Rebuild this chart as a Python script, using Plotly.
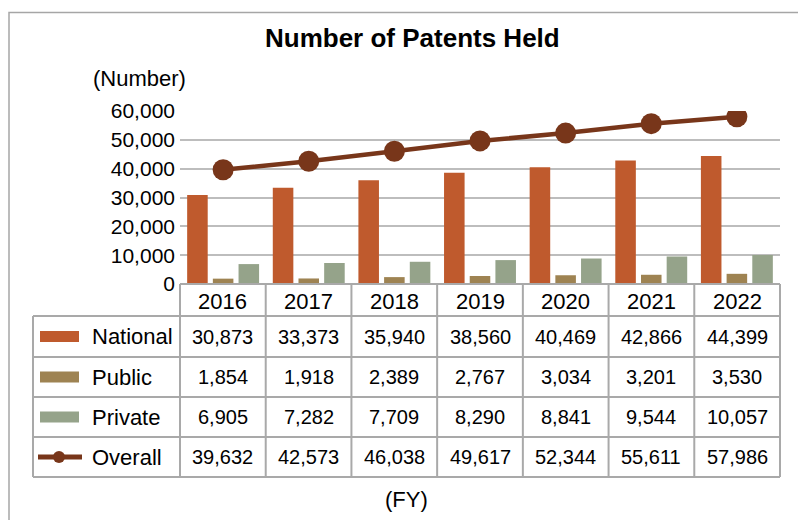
import plotly.graph_objects as go

years = ["2016", "2017", "2018", "2019", "2020", "2021", "2022"]
national = [30873, 33373, 35940, 38560, 40469, 42866, 44399]
public = [1854, 1918, 2389, 2767, 3034, 3201, 3530]
private = [6905, 7282, 7709, 8290, 8841, 9544, 10057]
overall = [39632, 42573, 46038, 49617, 52344, 55611, 57986]
series_names = ["National", "Public", "Private", "Overall"]
y_ticks = [0, 10000, 20000, 30000, 40000, 50000, 60000]

C_NAT = "#BF5A2D"
C_PUB = "#9E8352"
C_PRI = "#95A38A"
C_ALL = "#78361A"
GRID = "#BDBDBD"
TBL = "#A9A9A9"
FONT = "Liberation Sans, Arial, sans-serif"

# page body has an 8px margin, so the figure is placed at (8, 8)
OFF = 8
W, H = 806 - OFF, 520 - OFF
L, R, T, B = 180, 780, 111, 284  # plot area in window pixels


def px(x):
    return (x - L) / (R - L)


def py(y):
    return (B - y) / (B - T)


fig = go.Figure()
fig.add_trace(go.Bar(x=years, y=national, name="National", marker=dict(color=C_NAT, line=dict(width=0))))
fig.add_trace(go.Bar(x=years, y=public, name="Public", marker=dict(color=C_PUB, line=dict(width=0))))
fig.add_trace(go.Bar(x=years, y=private, name="Private", marker=dict(color=C_PRI, line=dict(width=0))))
fig.add_trace(go.Scatter(x=years, y=overall, name="Overall", mode="lines+markers",
                         line=dict(color=C_ALL, width=4.5),
                         marker=dict(color=C_ALL, size=21)))

shapes = []
annotations = []

# outer border
shapes.append(dict(type="rect", xref="paper", yref="paper",
                   x0=px(9), x1=px(803), y0=py(12.5), y1=py(540),
                   line=dict(color="#A6A6A6", width=1.5), fillcolor="rgba(0,0,0,0)", layer="below"))

# table lines
ncol = len(years)
cw = (R - L) / ncol
row_y = [316, 357, 397, 437, 477]
shapes.append(dict(type="line", xref="paper", yref="paper", x0=px(L), x1=px(R), y0=py(B), y1=py(B),
                   line=dict(color=TBL, width=2)))
for yy in row_y:
    shapes.append(dict(type="line", xref="paper", yref="paper", x0=px(33), x1=px(R), y0=py(yy), y1=py(yy),
                       line=dict(color=TBL, width=2)))
shapes.append(dict(type="line", xref="paper", yref="paper", x0=px(33), x1=px(33), y0=py(316), y1=py(477),
                   line=dict(color=TBL, width=2)))
for k in range(ncol + 1):
    xx = L + k * cw
    shapes.append(dict(type="line", xref="paper", yref="paper", x0=px(xx), x1=px(xx), y0=py(B), y1=py(477),
                       line=dict(color=TBL, width=2)))

# header years
for k, yr in enumerate(years):
    annotations.append(dict(xref="paper", yref="paper", x=px(L + (k + 0.5) * cw), y=py(301),
                            text=yr, showarrow=False, font=dict(size=22, color="black", family=FONT),
                            xanchor="center", yanchor="middle"))

# rows
rows = [national, public, private, overall]
centers = [336.5, 377, 417, 457]
colors = [C_NAT, C_PUB, C_PRI, C_ALL]
for i, (name, vals, yc, col) in enumerate(zip(series_names, rows, centers, colors)):
    annotations.append(dict(xref="paper", yref="paper", x=px(90), y=py(yc), text=name, showarrow=False,
                            font=dict(size=22, color="black", family=FONT), xanchor="left", yanchor="middle"))
    for k, v in enumerate(vals):
        annotations.append(dict(xref="paper", yref="paper", x=px(L + (k + 0.5) * cw), y=py(yc),
                                text=f"{v:,}", showarrow=False,
                                font=dict(size=20, color="black", family=FONT),
                                xanchor="center", yanchor="middle"))
    if i < 3:
        shapes.append(dict(type="rect", xref="paper", yref="paper", x0=px(40), x1=px(79),
                           y0=py(yc - 5.5), y1=py(yc + 5.5), line=dict(width=0), fillcolor=col))
    else:
        shapes.append(dict(type="line", xref="paper", yref="paper", x0=px(38), x1=px(82),
                           y0=py(yc), y1=py(yc), line=dict(color=col, width=5)))
        shapes.append(dict(type="circle", xref="paper", yref="paper", x0=px(53), x1=px(65),
                           y0=py(yc - 6), y1=py(yc + 6), line=dict(width=0), fillcolor=col))

# titles
annotations.append(dict(xref="paper", yref="paper", x=px(412), y=py(38), text="<b>Number of Patents Held</b>",
                        showarrow=False, font=dict(size=26, color="black", family=FONT),
                        xanchor="center", yanchor="middle"))
annotations.append(dict(xref="paper", yref="paper", x=px(139), y=py(78), text="(Number)",
                        showarrow=False, font=dict(size=22, color="black", family=FONT),
                        xanchor="center", yanchor="middle"))
annotations.append(dict(xref="paper", yref="paper", x=px(406), y=py(500), text="(FY)",
                        showarrow=False, font=dict(size=22, color="black", family=FONT),
                        xanchor="center", yanchor="middle"))

fig.update_layout(
    width=W, height=H,
    margin=dict(l=L - OFF, r=806 - R, t=T - OFF, b=520 - B, pad=0),
    paper_bgcolor="white", plot_bgcolor="white",
    barmode="group", bargap=0.1, bargroupgap=0.2,
    showlegend=False,
    font=dict(family=FONT, color="black"),
    shapes=shapes, annotations=annotations,
    xaxis=dict(type="category", showticklabels=False, showgrid=False, zeroline=False,
               showline=False, ticks="", fixedrange=True),
    yaxis=dict(range=[0, 60000], tickvals=y_ticks, tickformat=",d", showgrid=True,
               gridcolor=GRID, gridwidth=1.5, zeroline=False, showline=False, ticks="",
               tickfont=dict(size=21, color="black", family=FONT), ticklabelstandoff=4),
)

fig.write_html("out.html")
